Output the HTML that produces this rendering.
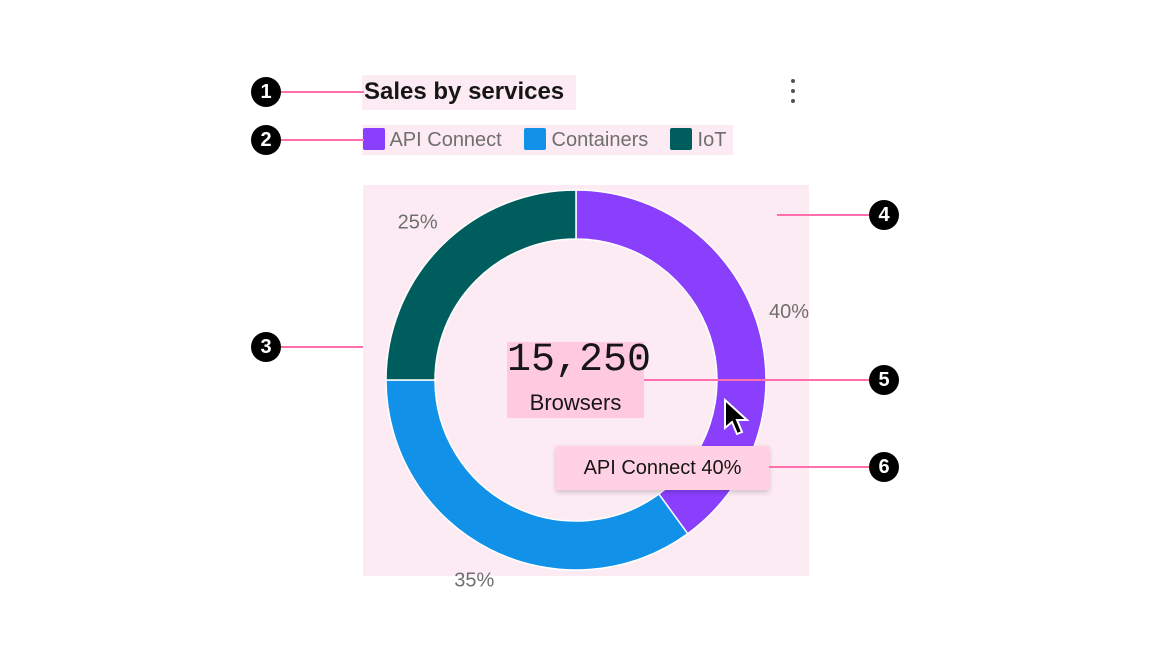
<!DOCTYPE html>
<html><head><meta charset="utf-8"><style>
body{margin:0;width:1152px;height:648px;background:#fff;font-family:"Liberation Sans",sans-serif;position:relative;overflow:hidden}
.abs{position:absolute}
.badge{position:absolute;width:30px;height:30px;border-radius:50%;background:#000;color:#fff;font-size:20px;line-height:30px;text-align:center;font-weight:bold}
.ln{position:absolute;height:1.5px;background:#ff6fae}
</style></head><body>
<div class="abs" style="left:362px;top:75px;width:214px;height:35px;background:#fdebf3"></div>
<div class="abs" style="left:364px;top:78px;font-size:24px;font-weight:bold;color:#161616">Sales by services</div>
<div class="abs" style="left:788px;top:78px;width:10px;height:28px">
 <div style="position:absolute;left:3px;top:1px;width:4px;height:4px;border-radius:50%;background:#525252"></div>
 <div style="position:absolute;left:3px;top:11px;width:4px;height:4px;border-radius:50%;background:#525252"></div>
 <div style="position:absolute;left:3px;top:21px;width:4px;height:4px;border-radius:50%;background:#525252"></div>
</div>
<div class="abs" style="left:362px;top:125px;width:371px;height:30px;background:#fdebf3;font-size:20px;color:#6f6f6f">
 <div class="abs" style="left:1px;top:3px;white-space:nowrap"><span style="display:inline-block;width:22px;height:22px;background:#8a3ffc;vertical-align:-4px;border-radius:2px"></span> API Connect</div>
 <div class="abs" style="left:162px;top:3px;white-space:nowrap"><span style="display:inline-block;width:22px;height:22px;background:#1192e8;vertical-align:-4px;border-radius:2px"></span> Containers</div>
 <div class="abs" style="left:308px;top:3px;white-space:nowrap"><span style="display:inline-block;width:22px;height:22px;background:#005d5d;vertical-align:-4px;border-radius:2px"></span> IoT</div>
</div>
<div class="abs" style="left:363px;top:185px;width:446px;height:391px;background:#fdebf3"></div>
<svg class="abs" style="left:0;top:0" width="1152" height="648" id="chart"></svg>
<div class="abs" style="left:507px;top:342px;width:137px;height:76px;background:#ffc9df"></div>
<div class="abs" style="left:507px;top:338px;width:137px;text-align:center;font-family:'Liberation Mono',monospace;font-size:40px;color:#161616">15,250</div>
<div class="abs" style="left:507px;top:390px;width:137px;text-align:center;font-size:22px;color:#161616">Browsers</div>
<svg class="abs" style="left:722px;top:398px" width="30" height="42"><path d="M3 2 L3 30 L10 24 L15 36 L20 34 L15 22 L25 22 Z" fill="#000" stroke="#fff" stroke-width="2"/></svg>
<div class="abs" style="left:556px;top:446px;width:213px;height:44px;background:#ffd1e3;box-shadow:0 2px 5px rgba(0,0,0,.2);font-size:20px;line-height:44px;text-align:center;color:#161616">API Connect 40%</div>
<div class="ln" style="left:280px;top:91px;width:84px"></div>
<div class="ln" style="left:280px;top:139px;width:84px"></div>
<div class="ln" style="left:280px;top:346px;width:83px"></div>
<div class="ln" style="left:777px;top:214px;width:95px"></div>
<div class="ln" style="left:644px;top:379px;width:228px"></div>
<div class="ln" style="left:769px;top:466px;width:103px"></div>
<div class="badge" style="left:251px;top:77px">1</div>
<div class="badge" style="left:251px;top:125px">2</div>
<div class="badge" style="left:251px;top:332px">3</div>
<div class="badge" style="left:869px;top:200px">4</div>
<div class="badge" style="left:869px;top:365px">5</div>
<div class="badge" style="left:869px;top:452px">6</div>
<script>
const categories=["API Connect","Containers","IoT"];
const values=[40,35,25];
const colors=["#8a3ffc","#1192e8","#005d5d"];
const svg=document.getElementById('chart');
const NS="http://www.w3.org/2000/svg";
const cx=576,cy=380,R=190,r=141,LR=224;
const total=values.reduce((a,b)=>a+b,0);
function pt(a,rad){return [cx+rad*Math.sin(a),cy-rad*Math.cos(a)];}
let start=0;
values.forEach((v,i)=>{
 const end=start+v/total*2*Math.PI;
 const large=(end-start)>Math.PI?1:0;
 const [x1,y1]=pt(start,R),[x2,y2]=pt(end,R),[x3,y3]=pt(end,r),[x4,y4]=pt(start,r);
 const p=document.createElementNS(NS,'path');
 p.setAttribute('d',`M${x1} ${y1} A${R} ${R} 0 ${large} 1 ${x2} ${y2} L${x3} ${y3} A${r} ${r} 0 ${large} 0 ${x4} ${y4} Z`);
 p.setAttribute('fill',colors[i]);p.setAttribute('stroke','#fff');p.setAttribute('stroke-width','1.5');
 
 
 svg.appendChild(p);
 const mid=(start+end)/2;const [lx,ly]=pt(mid,LR);
 const t=document.createElementNS(NS,'text');
 t.setAttribute('x',lx);t.setAttribute('y',ly+7);t.setAttribute('text-anchor','middle');
 t.setAttribute('font-size','20');t.setAttribute('fill','#6f6f6f');t.setAttribute('font-family','Liberation Sans, sans-serif');
 t.textContent=v+'%';
 
 
 svg.appendChild(t);
 start=end;
});
</script>
</body></html>
